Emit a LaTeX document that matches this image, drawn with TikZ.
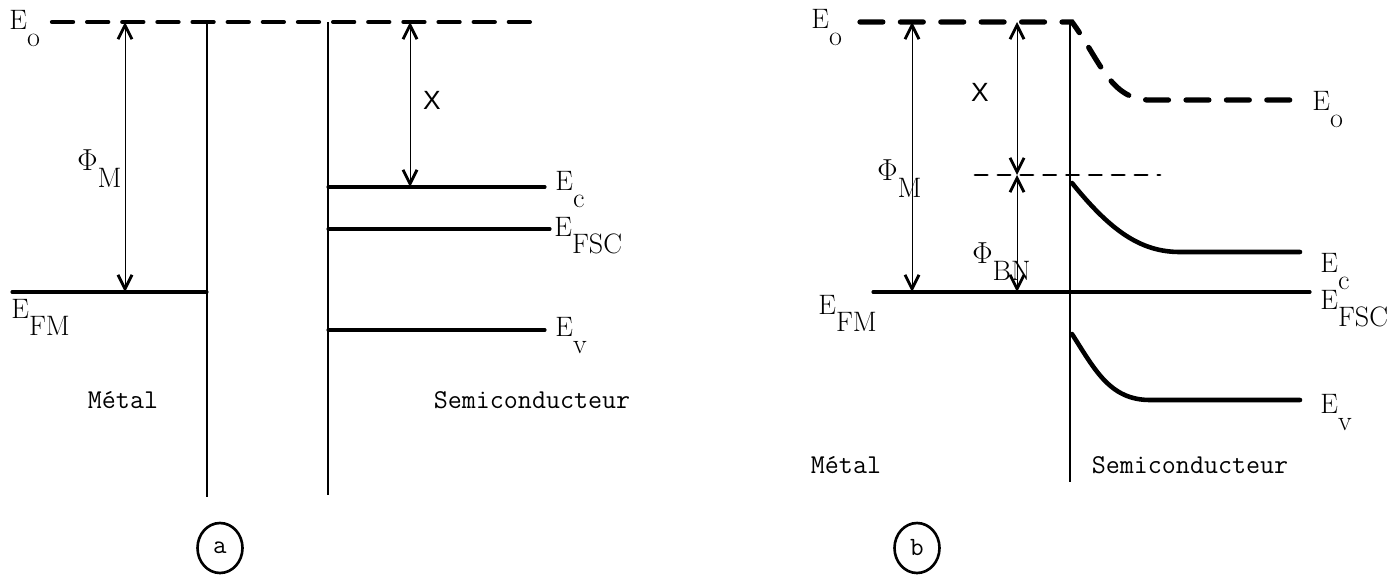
\documentclass[tikz,border=0pt]{standalone}
\usepackage{fontspec}
\newfontfamily\grkfont{Liberation Sans}
\usetikzlibrary{positioning,arrows.meta,shapes.geometric}
\tikzset{
  level/.style={line width=1.8pt, line cap=round},
  bent/.style={line width=2.6pt, line cap=round},
  wall/.style={line width=1.2pt},
  vac/.style={line width=2.4pt, line cap=round, dash pattern=on 12pt off 8pt},
  vacb/.style={line width=3pt, line cap=round, dash pattern=on 13pt off 10pt},
  ref/.style={line width=1.6pt, line cap=round, dash pattern=on 7pt off 6pt},
  barb/.tip={Straight Barb[length=8pt,width=8pt,line width=1.6pt]},
  gap/.style={line width=0.5pt, barb-barb},
  lbl/.style={font=\fontsize{16}{18}\selectfont, inner sep=0pt},
  word/.style={font=\ttfamily\fontsize{15.5}{18}\selectfont, inner sep=0pt},
  tag/.style={draw, line width=1.5pt, ellipse, minimum width=0.9cm, minimum height=1cm, inner sep=0pt, font=\ttfamily\fontsize{15}{17}\selectfont},
}
\newcommand{\sublab}[2]{#1\raisebox{-0.62em}{#2}}

\begin{document}
\begin{tikzpicture}[x=0.02cm, y=-0.02cm]
  \useasboundingbox (0,0) rectangle (1396,586);
  % (a) separated metal and semiconductor
  \coordinate (a-vac-l) at (52,22);
  \coordinate (a-vac-r) at (530,22);
  \draw[vac] (a-vac-l) -- (a-vac-r);
  \draw[wall] (207,22) coordinate (a-mw) -- (207,497);
  \draw[wall] (328,22) coordinate (a-sw) -- (328,495);
  \draw[level] (12,292) coordinate (a-fm-l) -- (207,292) coordinate (a-fm-r);
  \draw[level] (328,187) coordinate (a-c-l) -- (545,187) coordinate (a-c-r);
  \draw[level] (328,229) coordinate (a-f-l) -- (550,229) coordinate (a-f-r);
  \draw[level] (328,330) coordinate (a-v-l) -- (545,330) coordinate (a-v-r);
  \coordinate (a-phi-t) at (125,22);
  \coordinate (a-phi-b) at (125,292);
  \coordinate (a-chi-t) at (410,22);
  \coordinate (a-chi-b) at (410,187);
  \draw[gap] (a-phi-t) -- (a-phi-b);
  \draw[gap] (a-chi-t) -- (a-chi-b);
  \node[lbl, anchor=base west] (a-e0) at (9,29) {\sublab{E}{o}};
  \node[lbl, anchor=base west] (a-efm) at (11,318) {\sublab{E}{FM}};
  \node[lbl, anchor=base west] (a-ec) at (555,190) {\sublab{E}{c}};
  \node[lbl, anchor=base west] (a-efsc) at (554,236) {\sublab{E}{FSC}};
  \node[lbl, anchor=base west] (a-ev) at (555,336) {\sublab{E}{v}};
  \node[lbl, anchor=base west] (a-phim) at (77,170) {\sublab{$\Phi$}{M}};
  \node[lbl, font=\grkfont\fontsize{15}{17}\selectfont] (a-chi) at (432,100) {Χ};
  \node[word] (a-metal) at (123,400) {Métal};
  \node[word] (a-semi) at (532,400) {Semiconducteur};
  \node[tag] (a-tag) at (220,548) {a};
  % (b) contact, bands bent
  \draw[vacb] (860,22) coordinate (b-vac-l) -- (1072,22)
    .. controls (1100,60) and (1110,100) .. (1150,100) -- (1300,100) coordinate (b-vac-r);
  \draw[wall] (1070,24) coordinate (b-w) -- (1070,482);
  \draw[level] (873,292) coordinate (b-f-l) -- (1310,292) coordinate (b-f-r);
  \draw[bent] (1072,183) coordinate (b-c-l) .. controls (1110,230) and (1140,252) .. (1180,252) -- (1300,252) coordinate (b-c-r);
  \draw[bent] (1072,334) coordinate (b-v-l) .. controls (1095,370) and (1110,400) .. (1150,400) -- (1300,400) coordinate (b-v-r);
  \draw[ref] (975,175) coordinate (b-bar-l) -- (1160,175) coordinate (b-bar-r);
  \coordinate (b-phi-t) at (912,22);
  \coordinate (b-phi-b) at (912,292);
  \coordinate (b-chi-t) at (1017,22);
  \coordinate (b-chi-b) at (1017,175);
  \coordinate (b-bn-b) at (1017,292);
  \draw[gap] (b-phi-t) -- (b-phi-b);
  \draw[gap] (b-chi-t) -- (b-chi-b);
  \draw[gap] (b-chi-b) -- (b-bn-b);
  \node[lbl, anchor=base west] (b-e0) at (811,28) {\sublab{E}{o}};
  \node[lbl, anchor=base west] (b-efm) at (818,314) {\sublab{E}{FM}};
  \node[lbl, anchor=base west] (b-e0r) at (1312,110) {\sublab{E}{o}};
  \node[lbl, anchor=base west] (b-ec) at (1320,272) {\sublab{E}{c}};
  \node[lbl, anchor=base west] (b-efsc) at (1320,309) {\sublab{E}{FSC}};
  \node[lbl, anchor=base west] (b-ev) at (1320,413) {\sublab{E}{v}};
  \node[lbl, anchor=base west] (b-phim) at (877,180) {\sublab{$\Phi$}{M}};
  \node[lbl, anchor=base west] (b-phibn) at (972,263) {\sublab{$\Phi$}{BN}};
  \node[lbl, font=\grkfont\fontsize{15}{17}\selectfont] (b-chi) at (980,92) {Χ};
  \node[word] (b-metal) at (846,465) {Métal};
  \node[word] (b-semi) at (1190,465) {Semiconducteur};
  \node[tag] (b-tag) at (917,548) {b};
\end{tikzpicture}
\end{document}
